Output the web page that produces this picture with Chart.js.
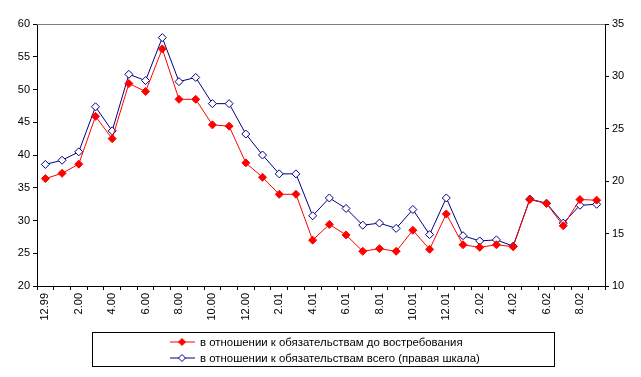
<!DOCTYPE html>
<html>
<head>
<meta charset="utf-8">
<script src="https://cdn.jsdelivr.net/npm/chart.js@4/dist/chart.umd.min.js"></script>
<style>
  html, body { margin: 0; padding: 0; background: #fff; }
  #wrap { position: relative; width: 641px; height: 377px; }
  #legend {
    position: absolute; left: 92px; top: 332px; width: 461px; height: 33px;
    border: 1px solid #000; box-sizing: content-box;
    font: 11.4px "Liberation Sans", Arial, sans-serif; color: #000;
  }
  .row { position: absolute; left: 77px; height: 14px; line-height: 14px; white-space: nowrap; }
  .row svg { vertical-align: middle; margin-right: 5px; }
</style>
</head>
<body>
<div id="wrap">
  <canvas id="chart" width="641" height="377"></canvas>
  <div id="legend"></div>
</div>
<script>
const months = ['12.99', '1.00', '2.00', '3.00', '4.00', '5.00', '6.00', '7.00', '8.00', '9.00',
  '10.00', '11.00', '12.00', '1.01', '2.01', '3.01', '4.01', '5.01', '6.01', '7.01',
  '8.01', '9.01', '10.01', '11.01', '12.01', '1.02', '2.02', '3.02', '4.02', '5.02',
  '6.02', '7.02', '8.02', '9.02'];

// left scale
const demandRatio = [36.4, 37.2, 38.6, 45.9, 42.5, 50.9, 49.7, 56.2, 48.5, 48.5,
  44.6, 44.4, 38.8, 36.6, 34.0, 34.0, 27.0, 29.4, 27.8, 25.3,
  25.7, 25.3, 28.5, 25.6, 31.0, 26.3, 25.9, 26.3, 26.0, 33.2,
  32.6, 29.2, 33.2, 33.1];

// right scale
const totalRatio = [21.6, 22.0, 22.8, 27.1, 24.8, 30.2, 29.6, 33.7, 29.5, 29.9,
  27.4, 27.4, 24.5, 22.5, 20.7, 20.7, 16.7, 18.4, 17.4, 15.8,
  16.0, 15.5, 17.3, 14.9, 18.4, 14.8, 14.3, 14.4, 13.8, 18.3,
  17.9, 16.0, 17.7, 17.8];

const leftTicks = [20, 25, 30, 35, 40, 45, 50, 55, 60];
const rightTicks = [10, 15, 20, 25, 30, 35];

const seriesNames = [
  'в отношении к обязательствам до востребования',
  'в отношении к обязательствам всего (правая шкала)'
];

Chart.defaults.font.family = '"Liberation Sans", Arial, sans-serif';
Chart.defaults.font.size = 11;
Chart.defaults.color = '#000';

// grey line on top of plot area
const topLine = {
  id: 'topLine',
  afterDraw(chart) {
    const { ctx, chartArea } = chart;
    ctx.save();
    ctx.strokeStyle = '#808080';
    ctx.lineWidth = 1;
    ctx.beginPath();
    ctx.moveTo(chartArea.left, chartArea.top + 0.5);
    ctx.lineTo(chartArea.right, chartArea.top + 0.5);
    ctx.stroke();
    ctx.restore();
  }
};

new Chart(document.getElementById('chart').getContext('2d'), {
  type: 'line',
  data: {
    labels: months,
    datasets: [
      {
        label: seriesNames[0],
        data: demandRatio,
        yAxisID: 'y',
        borderColor: '#ff0000',
        backgroundColor: '#ff0000',
        borderWidth: 1,
        pointStyle: 'rectRot',
        pointRadius: 4,
        pointBorderWidth: 1,
        pointBorderColor: '#ff0000',
        pointBackgroundColor: '#ff0000',
        tension: 0
      },
      {
        label: seriesNames[1],
        data: totalRatio,
        yAxisID: 'y1',
        borderColor: '#000080',
        backgroundColor: '#ffffff',
        borderWidth: 1,
        pointStyle: 'rectRot',
        pointRadius: 4,
        pointBorderWidth: 1,
        pointBorderColor: '#000080',
        pointBackgroundColor: '#ffffff',
        tension: 0
      }
    ]
  },
  options: {
    responsive: false,
    animation: false,
    layout: { padding: { top: 24, left: 0, right: 0, bottom: 0 } },
    plugins: {
      legend: { display: false },
      tooltip: { enabled: false }
    },
    scales: {
      x: {
        type: 'category',
        offset: true,
        grid: { display: true, drawOnChartArea: false, offset: true, color: '#000', tickLength: 4 },
        border: { color: '#000', width: 1 },
        ticks: {
          autoSkip: false,
          minRotation: 90,
          maxRotation: 90,
          padding: 3,
          callback: (v, i) => (i % 2 === 0 ? months[i] : '')
        },
        afterFit: s => { s.height = 91; }
      },
      y: {
        position: 'left',
        min: 20,
        max: 60,
        afterBuildTicks: s => { s.ticks = leftTicks.map(v => ({ value: v })); },
        grid: { drawOnChartArea: false, color: '#000', tickLength: 4 },
        border: { color: '#000', width: 1 },
        ticks: { padding: 3 },
        afterFit: s => { s.width = 37; }
      },
      y1: {
        position: 'right',
        min: 10,
        max: 35,
        afterBuildTicks: s => { s.ticks = rightTicks.map(v => ({ value: v })); },
        grid: { drawOnChartArea: false, color: '#000', tickLength: 4 },
        border: { color: '#000', width: 1 },
        ticks: { padding: 3 },
        afterFit: s => { s.width = 36; }
      }
    }
  },
  plugins: [topLine]
});

// legend box under the chart
const legendEl = document.getElementById('legend');
const markers = [
  '<polygon points="12,0.5 15.5,4 12,7.5 8.5,4" fill="#ff0000" stroke="#ff0000"/>',
  '<polygon points="12,0.5 15.5,4 12,7.5 8.5,4" fill="#ffffff" stroke="#000080"/>'
];
const colors = ['#ff0000', '#000080'];
seriesNames.forEach((name, i) => {
  const row = document.createElement('div');
  row.className = 'row';
  row.style.top = (2 + i * 16) + 'px';
  row.innerHTML = '<svg width="25" height="9"><line x1="0" y1="4" x2="25" y2="4" stroke="' +
    colors[i] + '" stroke-width="1"/>' + markers[i] + '</svg>' + name;
  legendEl.appendChild(row);
});
</script>
</body>
</html>
